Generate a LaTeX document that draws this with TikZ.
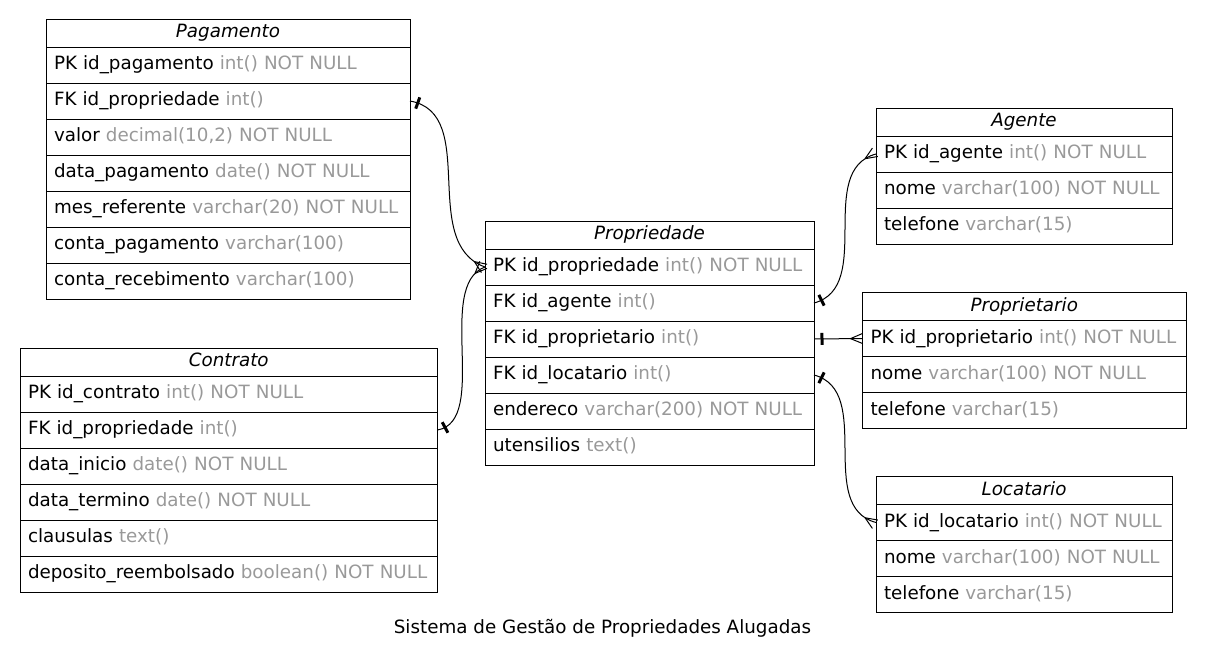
\documentclass[tikz,border=0pt]{standalone}
\usepackage{fontspec}
\setmainfont{DejaVu Sans}
\usetikzlibrary{positioning}
\usetikzlibrary{decorations.markings}
\definecolor{typegray}{HTML}{999999}
\newcommand{\fld}[2]{\mbox{#1 \textcolor{typegray}{#2}}}

\begin{document}
\begin{tikzpicture}
[x=1pt,y=-1pt,line width=1pt,
 hd/.style={draw,anchor=north west,outer sep=0pt,minimum height=28pt,text width=#1,align=center,inner xsep=8pt,inner ysep=0pt,text height=13.5pt,text depth=4.5pt,font=\fontsize{18.3}{22}\selectfont\itshape},
 row/.style={draw,outer sep=0pt,minimum height=36pt,text width=#1,align=left,inner xsep=8pt,inner ysep=0pt,text height=13.5pt,text depth=4.5pt,font=\fontsize{18.3}{22}\selectfont},
 fk/.style={postaction={decorate},decoration={markings,
   mark=at position 8pt with {\draw[line width=3pt] (0pt,-6pt) -- (0pt,6pt);},
   mark=at position -12pt with {\draw[line width=1pt] (0pt,0pt) -- (12pt,5pt) (0pt,0pt) -- (12pt,-5pt);}}}]
\useasboundingbox (0,0) rectangle (1205,662);

% Pagamento
\node [hd=348pt] at (46,19) (pag) {Pagamento};
\node [row=348pt,below=0pt of pag] (pag1) {\fld{PK id\_pagamento}{int() NOT NULL}};
\node [row=348pt,below=0pt of pag1] (pag2) {\fld{FK id\_propriedade}{int()}};
\node [row=348pt,below=0pt of pag2] (pag3) {\fld{valor}{decimal(10,2) NOT NULL}};
\node [row=348pt,below=0pt of pag3] (pag4) {\fld{data\_pagamento}{date() NOT NULL}};
\node [row=348pt,below=0pt of pag4] (pag5) {\fld{mes\_referente}{varchar(20) NOT NULL}};
\node [row=348pt,below=0pt of pag5] (pag6) {\fld{conta\_pagamento}{varchar(100)}};
\node [row=348pt,below=0pt of pag6] (pag7) {\fld{conta\_recebimento}{varchar(100)}};

% Contrato
\node [hd=401.5pt] at (20,348) (con) {Contrato};
\node [row=401.5pt,below=0pt of con] (con1) {\fld{PK id\_contrato}{int() NOT NULL}};
\node [row=401.5pt,below=0pt of con1] (con2) {\fld{FK id\_propriedade}{int()}};
\node [row=401.5pt,below=0pt of con2] (con3) {\fld{data\_inicio}{date() NOT NULL}};
\node [row=401.5pt,below=0pt of con3] (con4) {\fld{data\_termino}{date() NOT NULL}};
\node [row=401.5pt,below=0pt of con4] (con5) {\fld{clausulas}{text()}};
\node [row=401.5pt,below=0pt of con5] (con6) {\fld{deposito\_reembolsado}{boolean() NOT NULL}};

% Propriedade
\node [hd=313pt] at (485,221) (prop) {Propriedade};
\node [row=313pt,below=0pt of prop] (prop1) {\fld{PK id\_propriedade}{int() NOT NULL}};
\node [row=313pt,below=0pt of prop1] (prop2) {\fld{FK id\_agente}{int()}};
\node [row=313pt,below=0pt of prop2] (prop3) {\fld{FK id\_proprietario}{int()}};
\node [row=313pt,below=0pt of prop3] (prop4) {\fld{FK id\_locatario}{int()}};
\node [row=313pt,below=0pt of prop4] (prop5) {\fld{endereco}{varchar(200) NOT NULL}};
\node [row=313pt,below=0pt of prop5] (prop6) {\fld{utensilios}{text()}};

% Agente
\node [hd=280pt] at (876,108) (ag) {Agente};
\node [row=280pt,below=0pt of ag] (ag1) {\fld{PK id\_agente}{int() NOT NULL}};
\node [row=280pt,below=0pt of ag1] (ag2) {\fld{nome}{varchar(100) NOT NULL}};
\node [row=280pt,below=0pt of ag2] (ag3) {\fld{telefone}{varchar(15)}};

% Proprietario
\node [hd=307.5pt] at (862.5,292.5) (pr) {Proprietario};
\node [row=307.5pt,below=0pt of pr] (pr1) {\fld{PK id\_proprietario}{int() NOT NULL}};
\node [row=307.5pt,below=0pt of pr1] (pr2) {\fld{nome}{varchar(100) NOT NULL}};
\node [row=307.5pt,below=0pt of pr2] (pr3) {\fld{telefone}{varchar(15)}};

% Locatario
\node [hd=280pt] at (876,476.5) (lo) {Locatario};
\node [row=280pt,below=0pt of lo] (lo1) {\fld{PK id\_locatario}{int() NOT NULL}};
\node [row=280pt,below=0pt of lo1] (lo2) {\fld{nome}{varchar(100) NOT NULL}};
\node [row=280pt,below=0pt of lo2] (lo3) {\fld{telefone}{varchar(15)}};

\node [anchor=base,font=\fontsize{18.3}{22}\selectfont] at (602.5,633) (cap) {Sistema de Gestão de Propriedades Alugadas};

\draw [fk] (pag2.east) to[out=-10,in=160,looseness=1] (prop1.west);
\draw [fk] (con2.east) to[out=10,in=200,looseness=0.8] (prop1.west);
\draw [fk] (prop2.east) to[out=15,in=195,looseness=1] (ag1.west);
\draw [fk] (prop3.east) -- (pr1.west);
\draw [fk] (prop4.east) to[out=-15,in=165,looseness=1] (lo1.west);
\end{tikzpicture}
\end{document}
